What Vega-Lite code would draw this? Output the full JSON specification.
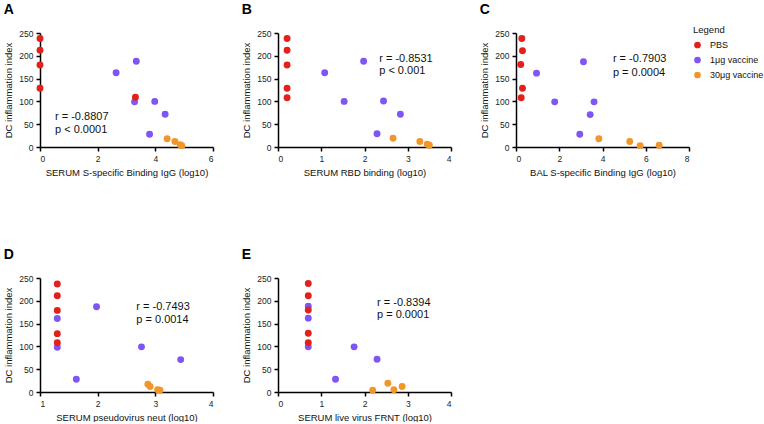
{
  "$schema": "https://vega.github.io/schema/vega-lite/v6.json",
  "padding": {"left": 3, "top": 2, "right": 0, "bottom": 0},
  "background": "white",
  "datasets": {
    "pts": [
      {"panel": "A", "group": "1μg vaccine", "x": 2.64, "y": 163},
      {"panel": "A", "group": "1μg vaccine", "x": 3.34, "y": 188},
      {"panel": "A", "group": "1μg vaccine", "x": 3.28, "y": 99},
      {"panel": "A", "group": "1μg vaccine", "x": 3.98, "y": 100},
      {"panel": "A", "group": "1μg vaccine", "x": 4.34, "y": 72},
      {"panel": "A", "group": "1μg vaccine", "x": 3.80, "y": 28},
      {"panel": "A", "group": "30μg vaccine", "x": 4.41, "y": 18},
      {"panel": "A", "group": "30μg vaccine", "x": 4.68, "y": 12},
      {"panel": "A", "group": "30μg vaccine", "x": 4.86, "y": 5},
      {"panel": "A", "group": "30μg vaccine", "x": 4.92, "y": 3},
      {"panel": "A", "group": "PBS", "x": 0, "y": 238},
      {"panel": "A", "group": "PBS", "x": 0, "y": 212},
      {"panel": "A", "group": "PBS", "x": 0, "y": 180},
      {"panel": "A", "group": "PBS", "x": 0, "y": 129},
      {"panel": "A", "group": "PBS", "x": 3.31, "y": 109},

      {"panel": "B", "group": "1μg vaccine", "x": 1.08, "y": 163},
      {"panel": "B", "group": "1μg vaccine", "x": 1.53, "y": 100},
      {"panel": "B", "group": "1μg vaccine", "x": 1.98, "y": 188},
      {"panel": "B", "group": "1μg vaccine", "x": 2.44, "y": 101},
      {"panel": "B", "group": "1μg vaccine", "x": 2.83, "y": 72},
      {"panel": "B", "group": "1μg vaccine", "x": 2.29, "y": 29},
      {"panel": "B", "group": "30μg vaccine", "x": 2.66, "y": 19},
      {"panel": "B", "group": "30μg vaccine", "x": 3.28, "y": 12},
      {"panel": "B", "group": "30μg vaccine", "x": 3.45, "y": 6},
      {"panel": "B", "group": "30μg vaccine", "x": 3.50, "y": 4},
      {"panel": "B", "group": "PBS", "x": 0.21, "y": 238},
      {"panel": "B", "group": "PBS", "x": 0.21, "y": 212},
      {"panel": "B", "group": "PBS", "x": 0.21, "y": 180},
      {"panel": "B", "group": "PBS", "x": 0.21, "y": 129},
      {"panel": "B", "group": "PBS", "x": 0.21, "y": 108},

      {"panel": "C", "group": "1μg vaccine", "x": 0.95, "y": 162},
      {"panel": "C", "group": "1μg vaccine", "x": 3.12, "y": 187},
      {"panel": "C", "group": "1μg vaccine", "x": 1.79, "y": 99},
      {"panel": "C", "group": "1μg vaccine", "x": 3.61, "y": 99},
      {"panel": "C", "group": "1μg vaccine", "x": 3.43, "y": 71},
      {"panel": "C", "group": "1μg vaccine", "x": 2.95, "y": 28},
      {"panel": "C", "group": "30μg vaccine", "x": 3.83, "y": 18},
      {"panel": "C", "group": "30μg vaccine", "x": 5.26, "y": 12},
      {"panel": "C", "group": "30μg vaccine", "x": 5.74, "y": 3},
      {"panel": "C", "group": "30μg vaccine", "x": 6.62, "y": 4},
      {"panel": "C", "group": "PBS", "x": 0.27, "y": 238},
      {"panel": "C", "group": "PBS", "x": 0.30, "y": 211},
      {"panel": "C", "group": "PBS", "x": 0.22, "y": 181},
      {"panel": "C", "group": "PBS", "x": 0.30, "y": 129},
      {"panel": "C", "group": "PBS", "x": 0.24, "y": 108},

      {"panel": "D", "group": "1μg vaccine", "x": 1.30, "y": 161},
      {"panel": "D", "group": "1μg vaccine", "x": 1.30, "y": 98},
      {"panel": "D", "group": "1μg vaccine", "x": 1.63, "y": 28},
      {"panel": "D", "group": "1μg vaccine", "x": 1.98, "y": 187},
      {"panel": "D", "group": "1μg vaccine", "x": 2.76, "y": 99},
      {"panel": "D", "group": "1μg vaccine", "x": 3.44, "y": 71},
      {"panel": "D", "group": "30μg vaccine", "x": 2.87, "y": 17},
      {"panel": "D", "group": "30μg vaccine", "x": 2.91, "y": 12},
      {"panel": "D", "group": "30μg vaccine", "x": 3.04, "y": 5},
      {"panel": "D", "group": "30μg vaccine", "x": 3.08, "y": 4},
      {"panel": "D", "group": "PBS", "x": 1.30, "y": 237},
      {"panel": "D", "group": "PBS", "x": 1.30, "y": 211},
      {"panel": "D", "group": "PBS", "x": 1.30, "y": 179},
      {"panel": "D", "group": "PBS", "x": 1.30, "y": 128},
      {"panel": "D", "group": "PBS", "x": 1.30, "y": 108},

      {"panel": "E", "group": "1μg vaccine", "x": 0.70, "y": 188},
      {"panel": "E", "group": "1μg vaccine", "x": 0.70, "y": 162},
      {"panel": "E", "group": "1μg vaccine", "x": 0.70, "y": 99},
      {"panel": "E", "group": "1μg vaccine", "x": 1.33, "y": 28},
      {"panel": "E", "group": "1μg vaccine", "x": 1.76, "y": 99},
      {"panel": "E", "group": "1μg vaccine", "x": 2.29, "y": 72},
      {"panel": "E", "group": "30μg vaccine", "x": 2.19, "y": 4},
      {"panel": "E", "group": "30μg vaccine", "x": 2.54, "y": 19},
      {"panel": "E", "group": "30μg vaccine", "x": 2.68, "y": 5},
      {"panel": "E", "group": "30μg vaccine", "x": 2.87, "y": 12},
      {"panel": "E", "group": "PBS", "x": 0.70, "y": 238},
      {"panel": "E", "group": "PBS", "x": 0.70, "y": 211},
      {"panel": "E", "group": "PBS", "x": 0.70, "y": 180},
      {"panel": "E", "group": "PBS", "x": 0.70, "y": 129},
      {"panel": "E", "group": "PBS", "x": 0.70, "y": 108}
    ],
    "ann": [
      {"panel": "A", "x": 0.52, "y": 66, "label": "r = -0.8807"},
      {"panel": "A", "x": 0.52, "y": 37, "label": "p < 0.0001"},
      {"panel": "B", "x": 2.34, "y": 194, "label": "r = -0.8531"},
      {"panel": "B", "x": 2.34, "y": 167, "label": "p < 0.001"},
      {"panel": "C", "x": 4.48, "y": 193, "label": "r = -0.7903"},
      {"panel": "C", "x": 4.48, "y": 163, "label": "p = 0.0004"},
      {"panel": "D", "x": 2.67, "y": 187, "label": "r = -0.7493"},
      {"panel": "D", "x": 2.67, "y": 158, "label": "p = 0.0014"},
      {"panel": "E", "x": 2.29, "y": 195, "label": "r = -0.8394"},
      {"panel": "E", "x": 2.29, "y": 168, "label": "p = 0.0001"}
    ]
  },
  "columns": 3,
  "spacing": {"row": 70, "column": 27},
  "concat": [
    {
      "width": 173, "height": 114,
      "title": "A",
      "encoding": {
        "x": {"field": "x", "type": "quantitative", "scale": {"domain": [0, 6], "nice": false}, "axis": {"values": [0, 2, 4, 6], "format": "d", "title": "SERUM S-specific Binding IgG (log10)"}},
        "y": {"field": "y", "type": "quantitative", "scale": {"domain": [0, 250], "nice": false}, "axis": {"values": [0, 50, 100, 150, 200, 250], "title": "DC inflammation index"}}
      },
      "layer": [
        {
          "data": {"name": "pts"},
          "transform": [{"filter": "datum.panel === 'A'"}],
          "mark": {"type": "circle", "size": 48, "opacity": 1},
          "encoding": {
            "color": {"field": "group", "type": "nominal", "scale": {"domain": ["PBS", "1μg vaccine", "30μg vaccine"], "range": ["#E3211C", "#7F56F5", "#F0962A"]},
              "legend": {"title": "Legend", "orient": "none", "legendX": 653, "legendY": -8, "titleFont": "Liberation Sans", "titleFontSize": 9.5, "titleFontWeight": "normal", "titleColor": "#111", "labelFont": "Liberation Sans", "labelFontSize": 9, "labelColor": "#111", "symbolType": "circle", "symbolSize": 45, "symbolStrokeWidth": 0, "rowPadding": 5, "labelOffset": 8, "titlePadding": 6}}
          }
        },
        {
          "data": {"name": "ann"},
          "transform": [{"filter": "datum.panel === 'A'"}],
          "mark": {"type": "text", "align": "left", "baseline": "middle", "fontSize": 11, "font": "Liberation Sans", "color": "#111"},
          "encoding": {"text": {"field": "label"}}
        }
      ]
    },
    {
      "width": 173, "height": 114,
      "title": "B",
      "encoding": {
        "x": {"field": "x", "type": "quantitative", "scale": {"domain": [0, 4], "nice": false}, "axis": {"values": [0, 1, 2, 3, 4], "format": "d", "title": "SERUM RBD binding (log10)"}},
        "y": {"field": "y", "type": "quantitative", "scale": {"domain": [0, 250], "nice": false}, "axis": {"values": [0, 50, 100, 150, 200, 250], "title": "DC inflammation index"}}
      },
      "layer": [
        {
          "data": {"name": "pts"},
          "transform": [{"filter": "datum.panel === 'B'"}],
          "mark": {"type": "circle", "size": 48, "opacity": 1},
          "encoding": {
            "color": {"field": "group", "type": "nominal", "scale": {"domain": ["PBS", "1μg vaccine", "30μg vaccine"], "range": ["#E3211C", "#7F56F5", "#F0962A"]},
              "legend": {"title": "Legend", "orient": "none", "legendX": 653, "legendY": -8, "titleFont": "Liberation Sans", "titleFontSize": 9.5, "titleFontWeight": "normal", "titleColor": "#111", "labelFont": "Liberation Sans", "labelFontSize": 9, "labelColor": "#111", "symbolType": "circle", "symbolSize": 45, "symbolStrokeWidth": 0, "rowPadding": 5, "labelOffset": 8, "titlePadding": 6}}
          }
        },
        {
          "data": {"name": "ann"},
          "transform": [{"filter": "datum.panel === 'B'"}],
          "mark": {"type": "text", "align": "left", "baseline": "middle", "fontSize": 11, "font": "Liberation Sans", "color": "#111"},
          "encoding": {"text": {"field": "label"}}
        }
      ]
    },
    {
      "width": 173, "height": 114,
      "title": "C",
      "encoding": {
        "x": {"field": "x", "type": "quantitative", "scale": {"domain": [0, 8], "nice": false}, "axis": {"values": [0, 2, 4, 6, 8], "format": "d", "title": "BAL S-specific Binding IgG (log10)"}},
        "y": {"field": "y", "type": "quantitative", "scale": {"domain": [0, 250], "nice": false}, "axis": {"values": [0, 50, 100, 150, 200, 250], "title": "DC inflammation index"}}
      },
      "layer": [
        {
          "data": {"name": "pts"},
          "transform": [{"filter": "datum.panel === 'C'"}],
          "mark": {"type": "circle", "size": 48, "opacity": 1},
          "encoding": {
            "color": {"field": "group", "type": "nominal", "scale": {"domain": ["PBS", "1μg vaccine", "30μg vaccine"], "range": ["#E3211C", "#7F56F5", "#F0962A"]},
              "legend": {"title": "Legend", "orient": "none", "legendX": 653, "legendY": -8, "titleFont": "Liberation Sans", "titleFontSize": 9.5, "titleFontWeight": "normal", "titleColor": "#111", "labelFont": "Liberation Sans", "labelFontSize": 9, "labelColor": "#111", "symbolType": "circle", "symbolSize": 45, "symbolStrokeWidth": 0, "rowPadding": 5, "labelOffset": 8, "titlePadding": 6}}
          }
        },
        {
          "data": {"name": "ann"},
          "transform": [{"filter": "datum.panel === 'C'"}],
          "mark": {"type": "text", "align": "left", "baseline": "middle", "fontSize": 11, "font": "Liberation Sans", "color": "#111"},
          "encoding": {"text": {"field": "label"}}
        }
      ]
    },
    {
      "width": 173, "height": 114,
      "title": "D",
      "encoding": {
        "x": {"field": "x", "type": "quantitative", "scale": {"domain": [1, 4], "nice": false, "zero": false}, "axis": {"values": [1, 2, 3, 4], "format": "d", "title": "SERUM pseudovirus neut (log10)"}},
        "y": {"field": "y", "type": "quantitative", "scale": {"domain": [0, 250], "nice": false}, "axis": {"values": [0, 50, 100, 150, 200, 250], "title": "DC inflammation index"}}
      },
      "layer": [
        {
          "data": {"name": "pts"},
          "transform": [{"filter": "datum.panel === 'D'"}],
          "mark": {"type": "circle", "size": 48, "opacity": 1},
          "encoding": {
            "color": {"field": "group", "type": "nominal", "scale": {"domain": ["PBS", "1μg vaccine", "30μg vaccine"], "range": ["#E3211C", "#7F56F5", "#F0962A"]},
              "legend": {"title": "Legend", "orient": "none", "legendX": 653, "legendY": -8, "titleFont": "Liberation Sans", "titleFontSize": 9.5, "titleFontWeight": "normal", "titleColor": "#111", "labelFont": "Liberation Sans", "labelFontSize": 9, "labelColor": "#111", "symbolType": "circle", "symbolSize": 45, "symbolStrokeWidth": 0, "rowPadding": 5, "labelOffset": 8, "titlePadding": 6}}
          }
        },
        {
          "data": {"name": "ann"},
          "transform": [{"filter": "datum.panel === 'D'"}],
          "mark": {"type": "text", "align": "left", "baseline": "middle", "fontSize": 11, "font": "Liberation Sans", "color": "#111"},
          "encoding": {"text": {"field": "label"}}
        }
      ]
    },
    {
      "width": 173, "height": 114,
      "title": "E",
      "encoding": {
        "x": {"field": "x", "type": "quantitative", "scale": {"domain": [0, 4], "nice": false}, "axis": {"values": [0, 1, 2, 3, 4], "format": "d", "title": "SERUM live virus FRNT (log10)"}},
        "y": {"field": "y", "type": "quantitative", "scale": {"domain": [0, 250], "nice": false}, "axis": {"values": [0, 50, 100, 150, 200, 250], "title": "DC inflammation index"}}
      },
      "layer": [
        {
          "data": {"name": "pts"},
          "transform": [{"filter": "datum.panel === 'E'"}],
          "mark": {"type": "circle", "size": 48, "opacity": 1},
          "encoding": {
            "color": {"field": "group", "type": "nominal", "scale": {"domain": ["PBS", "1μg vaccine", "30μg vaccine"], "range": ["#E3211C", "#7F56F5", "#F0962A"]},
              "legend": {"title": "Legend", "orient": "none", "legendX": 653, "legendY": -8, "titleFont": "Liberation Sans", "titleFontSize": 9.5, "titleFontWeight": "normal", "titleColor": "#111", "labelFont": "Liberation Sans", "labelFontSize": 9, "labelColor": "#111", "symbolType": "circle", "symbolSize": 45, "symbolStrokeWidth": 0, "rowPadding": 5, "labelOffset": 8, "titlePadding": 6}}
          }
        },
        {
          "data": {"name": "ann"},
          "transform": [{"filter": "datum.panel === 'E'"}],
          "mark": {"type": "text", "align": "left", "baseline": "middle", "fontSize": 11, "font": "Liberation Sans", "color": "#111"},
          "encoding": {"text": {"field": "label"}}
        }
      ]
    }
  ],
  "config": {
    "view": {"stroke": null},
    "font": "Liberation Sans",
    "axis": {
      "grid": false,
      "domainColor": "#000",
      "domainWidth": 1.5,
      "tickColor": "#000",
      "tickWidth": 1.5,
      "tickSize": 4,
      "labelOverlap": false,
      "labelFont": "Liberation Sans",
      "labelFontSize": 8.5,
      "labelColor": "#222",
      "labelPadding": 3,
      "titleFont": "Liberation Sans",
      "titleFontSize": 9.5,
      "titleFontWeight": "normal",
      "titleColor": "#111",
      "titlePadding": 5
    },
    "title": {"anchor": "start", "frame": "bounds", "fontSize": 14, "fontWeight": "bold", "font": "Liberation Sans", "color": "#000", "offset": 12.5}
  }
}
